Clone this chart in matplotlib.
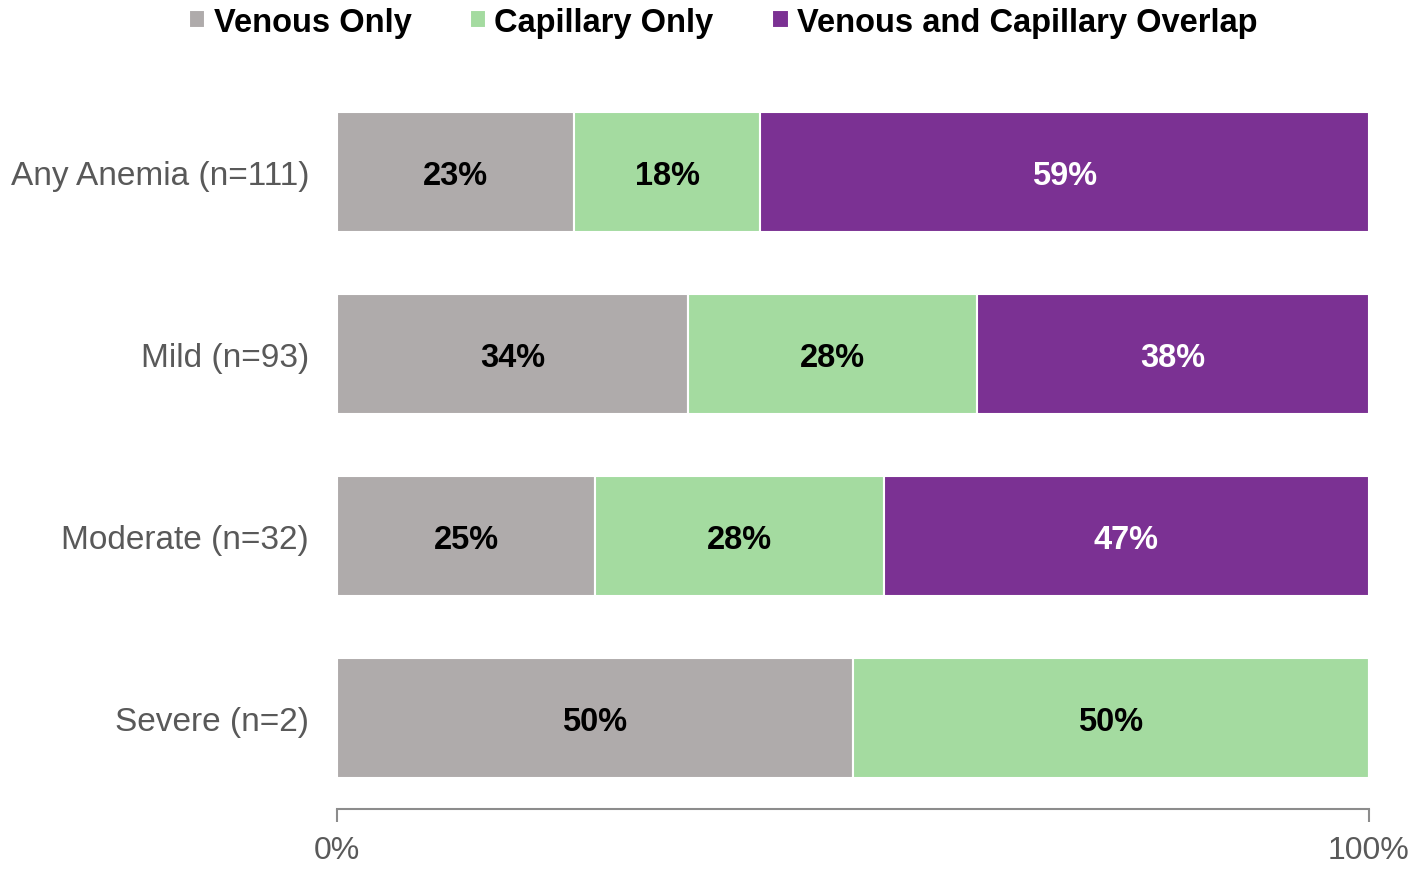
import matplotlib
matplotlib.use("Agg")
import matplotlib.pyplot as plt
import numpy as np

categories = ["Any Anemia (n=111)", "Mild (n=93)", "Moderate (n=32)", "Severe (n=2)"]
series_names = ["Venous Only", "Capillary Only", "Venous and Capillary Overlap"]
venous = [23, 34, 25, 50]
capillary = [18, 28, 28, 50]
overlap = [59, 38, 47, 0]
colors = ["#AFABAB", "#A4DBA0", "#7B3193"]
label_colors = ["black", "black", "white"]

plt.rcParams['font.family'] = ['Liberation Sans', 'DejaVu Sans']

fig = plt.figure(figsize=(14.18, 8.70), dpi=100)
ax = fig.add_axes([337 / 1418, 60 / 870, 1032 / 1418, 728 / 870])

y = np.arange(len(categories))
left = np.zeros(len(categories))
for name, vals, col, tcol in zip(series_names, [venous, capillary, overlap], colors, label_colors):
    vals = np.array(vals, dtype=float)
    ax.barh(y, vals, left=left, height=0.66, color=col, edgecolor="white", linewidth=1.5, label=name)
    for yi, v, l in zip(y, vals, left):
        if v > 0:
            ax.text(l + v / 2, yi, f"{v:.0f}%", ha="center", va="center_baseline",
                    fontsize=23.5, fontweight="bold", color=tcol)
    left += vals

ax.set_ylim(3.5, -0.5)
ax.set_xlim(0, 100)
ax.set_yticks(y)
ax.set_yticklabels(categories, fontsize=24, color="#595959")
ax.set_xticks([0, 100])
ax.set_xticklabels(["0%", "100%"], fontsize=23, color="#595959")
ax.tick_params(axis="y", length=0, pad=20)
ax.tick_params(axis="x", length=9, color="#8C8C8C", width=1.5, pad=10)
for s in ["top", "right", "left"]:
    ax.spines[s].set_visible(False)
ax.spines["bottom"].set_color("#8C8C8C")
ax.spines["bottom"].set_linewidth(1.5)

fig.legend(loc="upper center", bbox_to_anchor=(0.51, 1.025), ncol=3, frameon=False,
           prop={"size": 23.5, "weight": "bold"}, handlelength=0.5, handleheight=0.5,
           handletextpad=0.25, columnspacing=1.8)

fig.savefig("out.png", dpi=100)
